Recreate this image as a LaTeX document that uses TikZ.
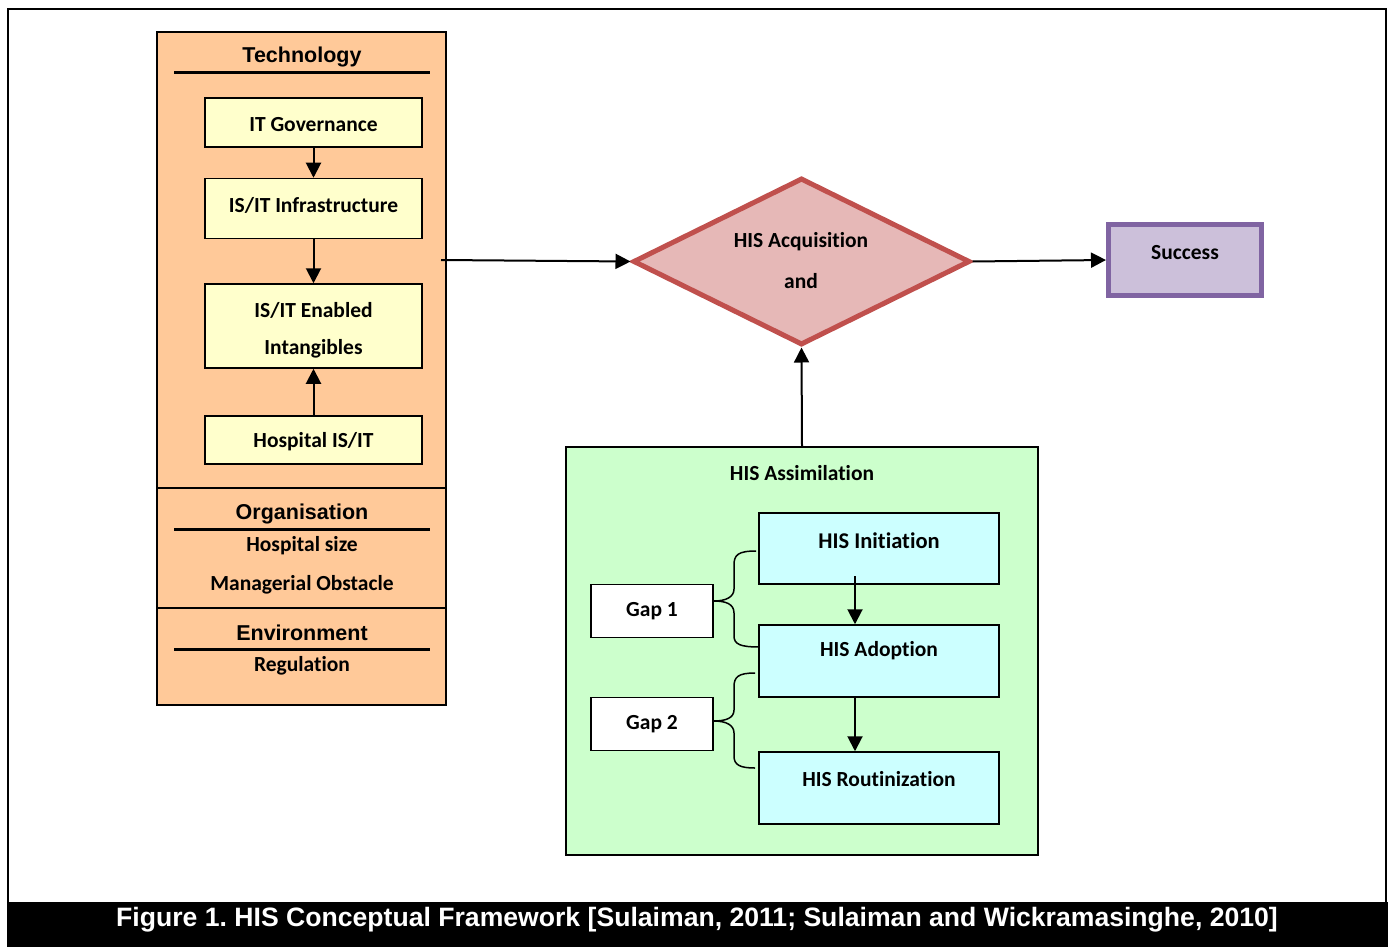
\documentclass[tikz,border=0pt]{standalone}
\usepackage{fontspec}
\setmainfont{Carlito}[Ligatures=NoCommon]
\newfontfamily\arialfont{Liberation Sans}
\usetikzlibrary{arrows.meta,shapes.geometric}
\definecolor{orangefill}{HTML}{FFC999}
\definecolor{yellowfill}{HTML}{FFFFCC}
\definecolor{greenfill}{HTML}{CCFFCC}
\definecolor{cyanfill}{HTML}{CCFFFF}
\definecolor{diafill}{HTML}{E6B8B7}
\definecolor{diaborder}{HTML}{C0504D}
\definecolor{sucfill}{HTML}{CCC0DA}
\definecolor{sucborder}{HTML}{8064A2}
\frenchspacing
\begin{document}
\begin{tikzpicture}[x=1pt,y=-1pt,
  box/.style={draw, line width=1.5pt, inner sep=0pt},
  lbl/.style={font=\bfseries\fontsize{21.5}{24}\selectfont, inner sep=0pt, yshift=-2pt},
  hdr/.style={font=\arialfont\bfseries\fontsize{21.5}{24}\selectfont, inner sep=0pt, yshift=-2pt},
  arr/.style={line width=2pt, -{Triangle[length=15pt,width=15pt]}},
  bracestyle/.style={line width=1.5pt}]
\useasboundingbox (0,0) rectangle (1395,947);
\fill[white] (0,0) rectangle (1395,947);
\draw[line width=2pt] (8,947) -- (8,9) -- (1386,9) -- (1386,947);
\fill[black] (7,902) rectangle (1388,947);
\node[font=\arialfont\bfseries\fontsize{26.6}{30}\selectfont, text=white, inner sep=0pt] (cap) at (697,920) {Figure 1. HIS Conceptual Framework [Sulaiman, 2011; Sulaiman and Wickramasinghe, 2010]};

% left panel
\node[box, fill=orangefill, minimum width=289, minimum height=456] (tech) at (301.5,260) {};
\node[box, fill=orangefill, minimum width=289, minimum height=120] (org) at (301.5,548) {};
\node[box, fill=orangefill, minimum width=289, minimum height=97] (env) at (301.5,656.5) {};
\node[hdr] (techt) at (302,55) {Technology};
\draw[line width=3pt] (174,73) -- (430,73);
\node[hdr] (orgt) at (302,512) {Organisation};
\draw[line width=3pt] (174,529) -- (430,529);
\node[hdr] (envt) at (302,631) {Environment};
\draw[line width=3pt] (174,649) -- (430,649);
\node[lbl] (hsize) at (302,544) {Hospital size};
\node[lbl] (mobs) at (302,583) {Managerial Obstacle};
\node[lbl] (regu) at (302,664) {Regulation};

\node[box, fill=yellowfill, minimum width=217, minimum height=49] (itgov) at (313.5,122.5) {};
\node[lbl] (itgovt) at (313.5,123) {IT Governance};
\node[box, fill=yellowfill, minimum width=217, minimum height=60] (infra) at (313.5,208.5) {};
\node[lbl] (infrat) at (313.5,203) {IS/IT Infrastructure};
\node[box, fill=yellowfill, minimum width=217, minimum height=84] (enab) at (313.5,326) {};
\node[lbl] (enabt1) at (313.5,308) {IS/IT Enabled};
\node[lbl] (enabt2) at (313.5,347) {Intangibles};
\node[box, fill=yellowfill, minimum width=217, minimum height=48] (hosp) at (313.5,440) {};
\node[lbl] (hospt) at (313.5,440) {Hospital IS/IT};
\draw[arr] (itgov) -- (infra);
\draw[arr] (infra) -- (enab);
\draw[arr] (hosp) -- (enab);

% diamond
\node[diamond, draw=diaborder, line width=5pt, fill=diafill, minimum width=337, minimum height=167, inner sep=0pt] (acq) at (801.5,261.5) {};
\node[lbl] (acqt1) at (801,240) {HIS Acquisition};
\node[lbl] (acqt2) at (801,279) {and};
\coordinate (techout) at (441,260);
\draw[arr] (techout) -- (acq.west);

% success
\node[draw=sucborder, line width=5pt, fill=sucfill, minimum width=153, minimum height=71, inner sep=0pt] (succ) at (1185,260) {};
\node[lbl] (succt) at (1185,251) {Success};
\draw[arr] (acq.east) -- (succ.west);

% assimilation
\node[box, fill=greenfill, minimum width=472, minimum height=408] (assim) at (802,651) {};
\node[lbl] (assimt) at (802,471) {HIS Assimilation};
\draw[arr] (assim.north) -- (acq.south);

\node[box, fill=cyanfill, minimum width=240, minimum height=71] (init) at (879,548.5) {};
\node[lbl, font=\bfseries\fontsize{22.5}{25}\selectfont] (initt) at (879,539) {HIS Initiation};
\node[box, fill=cyanfill, minimum width=240, minimum height=72] (adopt) at (879,661) {};
\node[lbl] (adoptt) at (879,649) {HIS Adoption};
\node[box, fill=cyanfill, minimum width=240, minimum height=72] (rout) at (879,788) {};
\node[lbl] (routt) at (879,777) {HIS Routinization};
\coordinate (ia) at (855,576);
\draw[arr] (ia) -- (ia |- adopt.north);
\draw[arr] (adopt.south -| ia) -- (rout.north -| ia);

\node[box, fill=white, minimum width=122, minimum height=53] (gap1) at (652,611) {};
\node[lbl] (gap1t) at (652,609) {Gap 1};
\node[box, fill=white, minimum width=122, minimum height=53] (gap2) at (652,724) {};
\node[lbl] (gap2t) at (652,722) {Gap 2};

\draw[bracestyle] (756,551) .. controls (738,551) and (734,555) .. (734,565) -- (734,589)
  .. controls (734,597) and (726,601) .. ([yshift=10pt]gap1.east)
  .. controls (726,601) and (734,604) .. (734,613) -- (734,636)
  .. controls (734,644) and (740,647) .. (759,647);
\draw[bracestyle] (755,673) .. controls (738,673) and (734,677) .. (734,687) -- (734,710)
  .. controls (734,718) and (726,721) .. ([yshift=3pt]gap2.east)
  .. controls (726,721) and (734,725) .. (734,733) -- (734,756)
  .. controls (734,765) and (740,768) .. (755,768);
\end{tikzpicture}
\end{document}
